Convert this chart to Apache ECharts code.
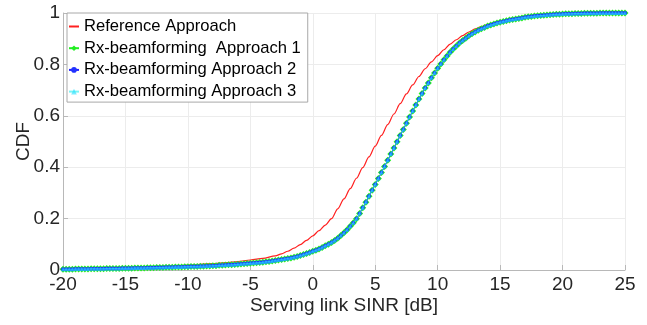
<!DOCTYPE html>
<html><head><meta charset="utf-8">
<script src="https://cdn.jsdelivr.net/npm/echarts@6/dist/echarts.min.js"></script>
<style>html,body{margin:0;padding:0;background:#fff}#c{width:647px;height:325px}</style>
</head><body><div id="c"></div>
<script>
// Reference approach (red line)
var refX = [-20,-19,-18,-17,-16,-15,-14,-13,-12,-11,-10,-9,-8,-7,-6,-5,-4,-3,-2.5,-2,-1.5,-1,-0.5,
  0,0.5,1,1.5,2,2.5,3,3.5,4,4.5,5,5.5,6,6.5,7,7.5,8,8.5,9,9.5,10,10.5,11,11.5,12,12.5,13,13.5,14,14.5,15,16,17,18,19,20,21,22,23,24,25];
var refY = [0.003,0.004,0.005,0.006,0.007,0.008,0.010,0.012,0.014,0.016,0.019,0.022,0.025,0.029,0.033,0.039,0.045,0.055,0.063,0.073,0.085,0.099,0.115,
  0.133,0.153,0.175,0.200,0.238,0.277,0.317,0.357,0.398,0.440,0.482,0.524,0.566,0.607,0.647,0.685,0.720,0.753,0.783,0.810,0.834,0.857,0.879,0.896,0.912,0.926,0.938,0.947,0.955,0.961,0.967,0.977,0.985,0.990,0.993,0.995,0.997,0.998,0.999,1.0,1.0];

// SINR grid of the Rx-beamforming curves (dB), step 0.25 from -20 to 25
var rxStart = -20, rxStep = 0.25;
var rxY = [
 0.003,0.003,0.003,0.003,0.004,0.004,0.004,0.004,0.004,0.005,0.005,0.005,0.005,0.005,0.006,0.006,0.006,0.006,0.006,0.007,
 0.007,0.007,0.007,0.008,0.008,0.008,0.008,0.009,0.009,0.009,0.010,0.010,0.010,0.011,0.011,0.011,0.012,0.012,0.012,0.013,
 0.013,0.014,0.014,0.014,0.015,0.015,0.016,0.016,0.017,0.017,0.018,0.018,0.019,0.020,0.020,0.021,0.022,0.023,0.024,0.025,
 0.026,0.027,0.028,0.029,0.030,0.032,0.033,0.035,0.037,0.039,0.041,0.043,0.045,0.047,0.050,0.053,0.056,0.060,0.064,0.068,
 0.073,0.077,0.082,0.088,0.094,0.100,0.107,0.115,0.124,0.134,0.145,0.157,0.170,0.184,0.199,0.220,0.242,0.264,0.287,0.310,
 0.333,0.356,0.379,0.403,0.427,0.451,0.475,0.499,0.523,0.547,0.571,0.595,0.619,0.642,0.665,0.687,0.708,0.728,0.748,0.767,
 0.785,0.802,0.818,0.833,0.847,0.860,0.872,0.883,0.893,0.902,0.911,0.919,0.926,0.933,0.939,0.944,0.949,0.953,0.957,0.961,
 0.964,0.967,0.970,0.973,0.975,0.977,0.979,0.981,0.983,0.985,0.986,0.988,0.989,0.990,0.991,0.992,0.993,0.994,0.995,0.995,
 0.996,0.997,0.997,0.997,0.998,0.998,0.998,0.999,0.999,0.999,0.999,0.999,1.0,1.0,1.0,1.0,1.0,1.0,1.0,1.0,1.0];
var approach1Y = rxY, approach2Y = rxY, approach3Y = rxY;

var seriesNames = ['Reference Approach','Rx-beamforming  Approach 1','Rx-beamforming Approach 2','Rx-beamforming Approach 3'];
var xTicks = {min:-20, max:25, interval:5};
var yTicks = {min:0, max:1, interval:0.2};

function pairs(xs, ys){ return ys.map(function(v,i){ return [xs[i], v]; }); }
var rxX = rxY.map(function(_,i){ return rxStart + i*rxStep; });

var FONT = 'Liberation Sans, Arial, sans-serif';
var chart = echarts.init(document.getElementById('c'), null, {renderer:'canvas'});
chart.setOption({
  animation:false,
  backgroundColor:'#fff',
  grid:{left:63, right:22, top:13, bottom:55, containLabel:false, outerBoundsMode:'none'},
  legend:{
    orient:'vertical', left:67, top:13,
    data:[{name:seriesNames[0], itemStyle:{opacity:0}}, seriesNames[1], seriesNames[2], seriesNames[3]],
    itemWidth:10, itemHeight:7, itemGap:4.7,
    padding:[5,7,2,1],
    backgroundColor:'#fff', borderColor:'#a8a8a8', borderWidth:1,
    textStyle:{fontFamily:FONT, fontSize:16.6, color:'#000', lineHeight:17}
  },
  xAxis:{
    type:'value', min:xTicks.min, max:xTicks.max, interval:xTicks.interval,
    name:'Serving link SINR [dB]', nameLocation:'middle', nameGap:26, nameMoveOverlap:false,
    nameTextStyle:{fontFamily:FONT, fontSize:19, color:'#262626'},
    axisLine:{onZero:false, lineStyle:{color:'#b8b8b8', width:1}},
    axisTick:{show:true, inside:true, length:5, lineStyle:{color:'#b8b8b8'}},
    axisLabel:{fontFamily:FONT, fontSize:19, color:'#262626', margin:5},
    splitLine:{show:true, lineStyle:{color:'#ececec', width:1}}
  },
  yAxis:{
    type:'value', min:yTicks.min, max:yTicks.max, interval:yTicks.interval,
    name:'CDF', nameLocation:'middle', nameGap:29.5, nameRotate:90, nameMoveOverlap:false,
    nameTextStyle:{fontFamily:FONT, fontSize:19, color:'#262626'},
    axisLine:{show:true, onZero:false, lineStyle:{color:'#b8b8b8', width:1}},
    axisTick:{show:true, inside:true, length:5, lineStyle:{color:'#b8b8b8'}},
    axisLabel:{fontFamily:FONT, fontSize:19, color:'#262626', margin:3},
    splitLine:{show:true, lineStyle:{color:'#ececec', width:1}}
  },
  series:[
    {name:seriesNames[0], type:'line', data:pairs(refX, refY), smooth:0.3, smoothMonotone:'x', showSymbol:false, symbol:'none',
      lineStyle:{color:'#ff2020', width:1.2}, itemStyle:{color:'#ff2020'}, z:2},
    {name:seriesNames[1], type:'line', data:pairs(rxX, approach1Y), symbol:'diamond', symbolSize:7,
      lineStyle:{color:'#22ee22', width:1}, itemStyle:{color:'#22ee22'}, z:3},
    {name:seriesNames[2], type:'line', data:pairs(rxX, approach2Y), symbol:'circle', symbolSize:4,
      lineStyle:{color:'#2222ff', width:1}, itemStyle:{color:'#2233ff'}, z:4},
    {name:seriesNames[3], type:'line', data:pairs(rxX, approach3Y), symbol:'triangle', symbolSize:4,
      lineStyle:{color:'#22eeee', width:1, opacity:0.6}, itemStyle:{color:'#22ddff', opacity:0.6}, z:5}
  ]
});
</script></body></html>
